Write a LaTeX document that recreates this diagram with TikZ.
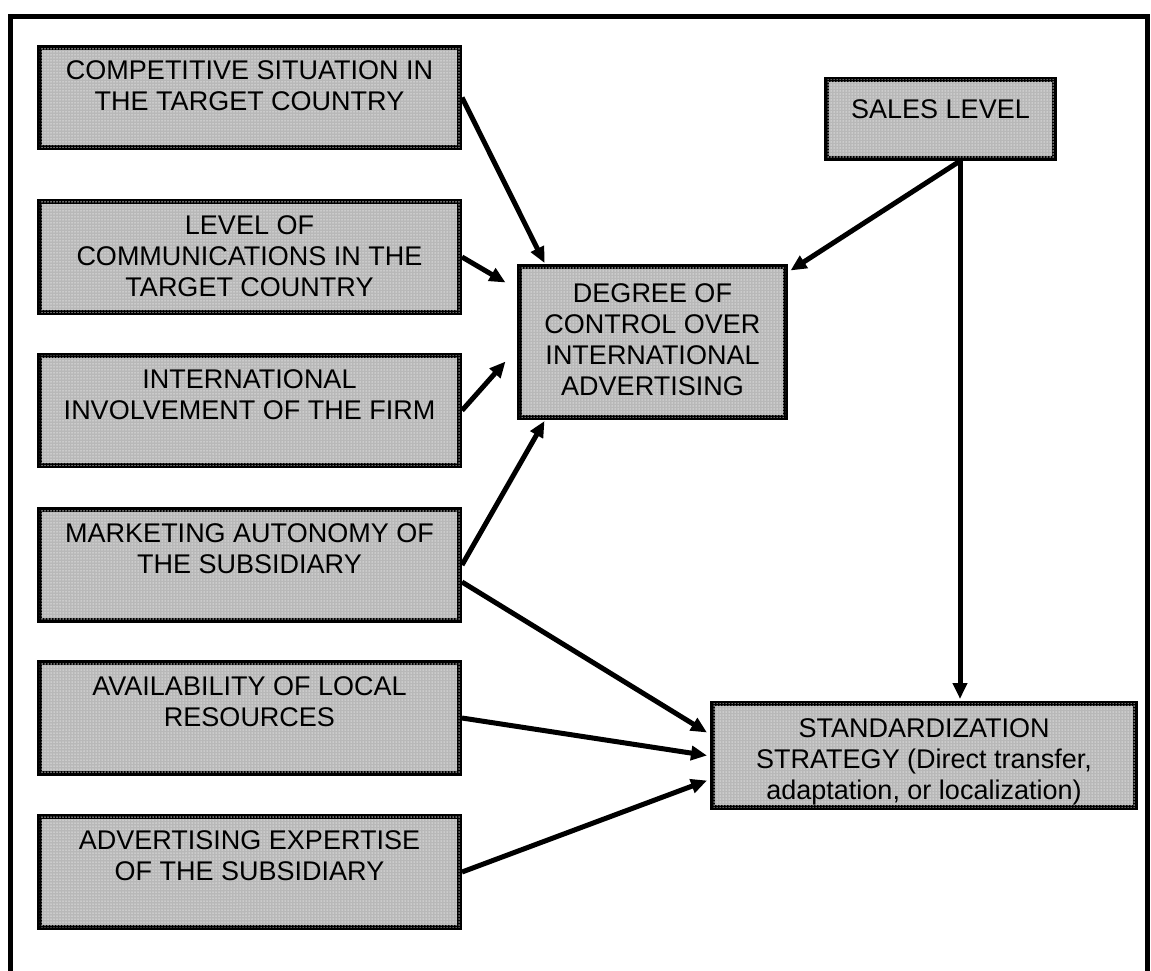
\documentclass[tikz,border=0pt]{standalone}
\usepackage{fontspec}
\setmainfont{Liberation Sans}
\usetikzlibrary{arrows.meta,patterns.meta}
\definecolor{boxgray}{RGB}{184,184,184}
\definecolor{grainlight}{RGB}{226,226,226}
\begin{document}
\begin{tikzpicture}[x=1pt,y=-1pt,
  factor/.style={draw=black, line width=5pt, fill=boxgray, inner sep=0pt,
    postaction={pattern={Dots[distance=3pt,radius=0.75pt]}, pattern color=grainlight}},
  txt/.style={inner sep=0pt, anchor=north, align=center,
    font=\fontsize{27}{31}\selectfont},
  link/.style={line width=5pt, -{Triangle[length=16pt,width=14pt]}}
]
% page and outer frame
\fill[white] (0,0) rectangle (1151,970);
\useasboundingbox (0,0) rectangle (1151,970);
\draw[line width=5pt] (10,990) -- (10,16) -- (1147,16) -- (1147,990);

% influencing factors (left column)
\node[factor, minimum width=420pt, minimum height=100pt] (b1) at (249.5,97.5) {};
\node[factor, minimum width=420pt, minimum height=111pt] (b2) at (249.5,257) {};
\node[factor, minimum width=420pt, minimum height=110pt] (b3) at (249.5,410.5) {};
\node[factor, minimum width=420pt, minimum height=111pt] (b4) at (249.5,565) {};
\node[factor, minimum width=420pt, minimum height=111pt] (b5) at (249.5,718) {};
\node[factor, minimum width=420pt, minimum height=111pt] (b6) at (249.5,872) {};

% central and right boxes
\node[factor, minimum width=266pt, minimum height=151pt] (deg) at (652.5,342) {};
\node[factor, minimum width=228pt, minimum height=79pt] (sales) at (940.5,119) {};
\node[factor, minimum width=423pt, minimum height=104pt] (std) at (924,755.5) {};

% box texts
\node[txt, yshift=-15pt] at (b1.north) {COMPETITIVE SITUATION IN\\THE TARGET COUNTRY};
\node[txt, yshift=-16pt] at (b2.north) {LEVEL OF\\COMMUNICATIONS IN THE\\TARGET COUNTRY};
\node[txt, yshift=-16pt] at (b3.north) {INTERNATIONAL\\INVOLVEMENT OF THE FIRM};
\node[txt, yshift=-16pt] at (b4.north) {MARKETING AUTONOMY OF\\THE SUBSIDIARY};
\node[txt, yshift=-16pt] at (b5.north) {AVAILABILITY OF LOCAL\\RESOURCES};
\node[txt, yshift=-16pt] at (b6.north) {ADVERTISING EXPERTISE\\OF THE SUBSIDIARY};
\node[txt, yshift=-19pt] at (deg.north) {DEGREE OF\\CONTROL OVER\\INTERNATIONAL\\ADVERTISING};
\node[txt, yshift=-22pt] at (sales.north) {SALES LEVEL};
\node[txt, yshift=-17pt] at (std.north) {STANDARDIZATION\\STRATEGY (Direct transfer,\\adaptation, or localization)};

% connectors into the degree of control
\draw[link] (b1.east) -- ([xshift=27.5pt,yshift=1pt]deg.north west);
\draw[link] (b2.east) -- ([xshift=-11.5pt,yshift=-18.5pt]deg.north west);
\draw[link] (b3.east) -- ([xshift=-11.5pt,yshift=-97.5pt]deg.north west);
\draw[link] (b4.east) -- ([xshift=27.5pt,yshift=-1pt]deg.south west);
\draw[link] ([xshift=19.5pt]sales.south) -- ([xshift=2.5pt,yshift=-6.5pt]deg.north east);

% connectors into the standardization strategy
\draw[link] ([yshift=-17pt]b4.east) -- ([xshift=-3pt,yshift=-31.5pt]std.north west);
\draw[link] (b5.east) -- ([xshift=-3pt,yshift=-54.5pt]std.north west);
\draw[link] (b6.east) -- ([xshift=-3pt,yshift=-79.5pt]std.north west);
\draw[link] ([xshift=19.5pt]sales.south) -- ([xshift=36pt,yshift=2pt]std.north);
\end{tikzpicture}
\end{document}
